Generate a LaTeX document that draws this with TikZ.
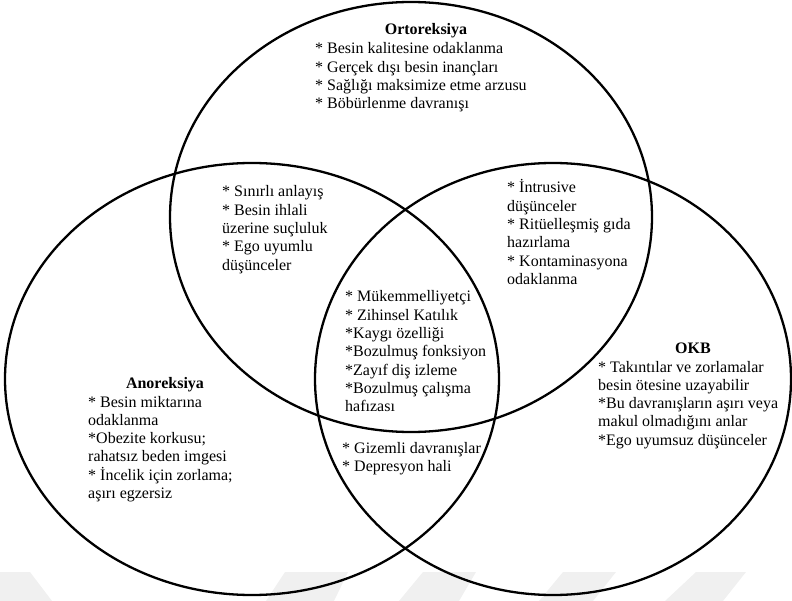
\documentclass[tikz,border=0pt]{standalone}
\usepackage{fontspec}
\setmainfont{Liberation Serif}
\begin{document}
\begin{tikzpicture}[x=1pt,y=-1pt,
  ring/.style={line width=2.3pt, draw=black},
  wmark/.style={fill=black!6, draw=none},
  txtblk/.style={anchor=base west, inner sep=0pt, font=\fontsize{16}{18.3}\selectfont},
  ttl/.style={anchor=base, inner sep=0pt, font=\fontsize{16}{18.3}\selectfont\bfseries}]
\useasboundingbox (0,0) rectangle (792,601);
% faint watermark bands
\fill[wmark] (0,572) -- (30,572) -- (52,601) -- (0,601) -- cycle;
\fill[wmark] (285,572) -- (348,572) -- (334,601) -- (266,601) -- cycle;
\fill[wmark] (423,572) -- (476,572) -- (459,601) -- (399,601) -- cycle;
\fill[wmark] (563,572) -- (616,572) -- (593,601) -- (539,601) -- cycle;
\fill[wmark] (696,572) -- (746,572) -- (723,601) -- (665,601) -- cycle;
% the three sets
\draw[ring] (411,217) ellipse [x radius=241pt, y radius=215pt];
\draw[ring] (252,379) ellipse [x radius=247pt, y radius=216pt];
\draw[ring] (553,379) ellipse [x radius=238pt, y radius=216pt];
% Ortoreksiya
\node[ttl] (ortoT) at (426,35) {Ortoreksiya};
\node[txtblk] (ortoL) at (315,54) {\parbox[t]{260pt}{\raggedright
{*} Besin kalitesine odaklanma\\
{*} Gerçek dışı besin inançları\\
{*} Sağlığı maksimize etme arzusu\\
{*} Böbürlenme davranışı}};
% Ortoreksiya & Anoreksiya
\node[txtblk] (oa) at (222,197) {\parbox[t]{200pt}{\raggedright
{*} Sınırlı anlayış\\
{*} Besin ihlali\\
üzerine suçluluk\\
{*} Ego uyumlu\\
düşünceler}};
% Ortoreksiya & OKB
\node[txtblk] (oo) at (507,193) {\parbox[t]{200pt}{\raggedright
{*} İntrusive\\
düşünceler\\
{*} Ritüelleşmiş gıda\\
hazırlama\\
{*} Kontaminasyona\\
odaklanma}};
% centre
\node[txtblk] (all) at (345,302) {\parbox[t]{200pt}{\raggedright
{*} Mükemmelliyetçi\\
{*} Zihinsel Katılık\\
{*}Kaygı özelliği\\
{*}Bozulmuş fonksiyon\\
{*}Zayıf diş izleme\\
{*}Bozulmuş çalışma\\
hafızası}};
% Anoreksiya & OKB
\node[txtblk] (ao) at (342,453) {\parbox[t]{200pt}{\raggedright
{*} Gizemli davranışlar\\
{*} Depresyon hali}};
% Anoreksiya
\node[ttl] (anoT) at (165,388) {Anoreksiya};
\node[txtblk] (anoL) at (88,407) {\parbox[t]{220pt}{\raggedright
{*} Besin miktarına\\
odaklanma\\
{*}Obezite korkusu;\\
rahatsız beden imgesi\\
{*} İncelik için zorlama;\\
aşırı egzersiz}};
% OKB
\node[ttl] (okbT) at (693,353) {OKB};
\node[txtblk] (okbL) at (598,372) {\parbox[t]{220pt}{\raggedright
{*} Takıntılar ve zorlamalar\\
besin ötesine uzayabilir\\
{*}Bu davranışların aşırı veya\\
makul olmadığını anlar\\
{*}Ego uyumsuz düşünceler}};
\end{tikzpicture}
\end{document}
